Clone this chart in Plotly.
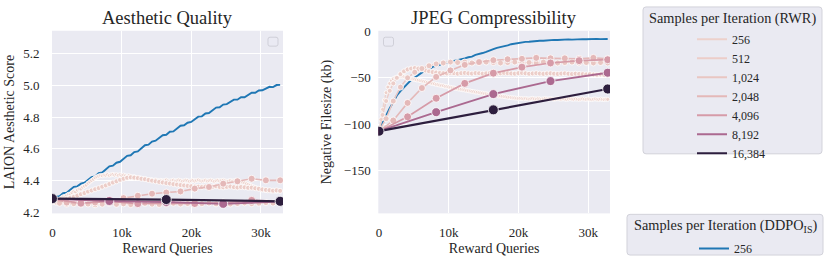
import plotly.graph_objects as go

# ---------------- data ----------------
tick_vals = [0, 10000, 20000, 30000]
tick_text = ["0", "10k", "20k", "30k"]
aes_ticks = [4.2, 4.4, 4.6, 4.8, 5.0, 5.2]
jpeg_ticks = [0, -50, -100, -150]

rwr_samples = [256, 512, 1024, 2048, 4096, 8192, 16384]
rwr_labels = ["256", "512", "1,024", "2,048", "4,096", "8,192", "16,384"]
ddpo_label = "256"
ddpo_log_step = 512  # reward queries between logged DDPO points

aes_ddpo = [4.280, 4.298, 4.302, 4.321, 4.324, 4.343, 4.361, 4.364, 4.381, 4.387,
            4.403, 4.422, 4.427, 4.447, 4.451, 4.472, 4.490, 4.494, 4.513, 4.519,
            4.536, 4.556, 4.560, 4.580, 4.584, 4.605, 4.623, 4.627, 4.646, 4.652,
            4.668, 4.686, 4.689, 4.708, 4.710, 4.729, 4.746, 4.749, 4.765, 4.770,
            4.786, 4.803, 4.805, 4.823, 4.826, 4.844, 4.860, 4.862, 4.879, 4.882,
            4.895, 4.910, 4.910, 4.925, 4.925, 4.941, 4.954, 4.954, 4.968, 4.969,
            4.979, 4.991, 4.989, 5.002, 5.003]

aes_rwr_256 = [4.272, 4.269, 4.276, 4.283, 4.281, 4.291, 4.298, 4.296, 4.307, 4.314,
               4.312, 4.324, 4.331, 4.329, 4.341, 4.348, 4.347, 4.359, 4.366, 4.372,
               4.384, 4.392, 4.401, 4.409, 4.418, 4.424,
               4.429, 4.433, 4.431, 4.436, 4.434, 4.438, 4.433, 4.437, 4.440, 4.435,
               4.438, 4.434, 4.437, 4.432, 4.435,
               4.431, 4.428, 4.431, 4.426, 4.423, 4.425, 4.420, 4.417, 4.419, 4.414,
               4.411, 4.413, 4.409, 4.406, 4.408, 4.404, 4.402, 4.405, 4.401, 4.399,
               4.402, 4.398, 4.401, 4.404, 4.399, 4.397, 4.401, 4.403, 4.398, 4.400,
               4.404, 4.401, 4.397, 4.399, 4.403, 4.400, 4.396, 4.399, 4.402, 4.398,
               4.401, 4.404, 4.400, 4.397, 4.399, 4.402, 4.398, 4.400, 4.403, 4.399,
               4.396, 4.399, 4.402, 4.398, 4.401, 4.403, 4.399, 4.396, 4.398, 4.401,
               4.397, 4.399, 4.402, 4.398, 4.396,
               4.393, 4.389, 4.386, 4.380, 4.376, 4.371, 4.366, 4.362, 4.357, 4.353,
               4.349, 4.346, 4.342, 4.340, 4.338,
               4.336, 4.338, 4.334, 4.337, 4.335, 4.333, 4.336, 4.334]
aes_rwr_512 = [4.265, 4.262, 4.270, 4.276, 4.284, 4.292, 4.298, 4.306, 4.315,
               4.322, 4.331, 4.338, 4.346, 4.353, 4.362, 4.370, 4.379, 4.388, 4.396, 4.405, 4.412,
               4.418, 4.421, 4.419, 4.416, 4.412, 4.409, 4.404, 4.400, 4.396, 4.392,
               4.389, 4.385, 4.382, 4.378, 4.375, 4.372, 4.370, 4.367, 4.365, 4.363,
               4.362, 4.360, 4.363, 4.359, 4.361, 4.364, 4.360, 4.358, 4.361, 4.363,
               4.359, 4.357, 4.360, 4.358, 4.355, 4.356,
               4.352, 4.349, 4.345, 4.342, 4.340, 4.337, 4.339, 4.336]
aes_rwr_1024 = [4.268, 4.258, 4.252, 4.255, 4.250, 4.253, 4.248, 4.252, 4.256, 4.251,
                4.254, 4.249, 4.253, 4.257, 4.252, 4.250, 4.254, 4.258, 4.253, 4.256,
                4.252, 4.255, 4.259, 4.254, 4.257, 4.253, 4.256, 4.260, 4.255, 4.258,
                4.262, 4.259, 4.263]
aes_rwr_2048 = [4.280, 4.262, 4.255, 4.262, 4.272, 4.290, 4.305, 4.318, 4.325,
                4.332, 4.350, 4.360, 4.381, 4.396, 4.412, 4.402, 4.402]
aes_rwr_4096 = [4.283, 4.258, 4.270, 4.255, 4.258, 4.256, 4.260, 4.276, 4.268]
aes_rwr_8192 = [4.285, 4.272, 4.266, 4.254, 4.268]
aes_rwr_16384 = [4.287, 4.281, 4.270]

jpeg_ddpo = [-106, -97.6, -90.3, -82.7, -76.2, -69.0, -64.3, -59.7, -56.2, -52.3,
             -49.7, -46.8, -44.6, -41.8, -40.6, -38.3, -37.1, -35.8, -35.1, -33.4,
             -32.6, -31.8, -31.1, -29.8, -29.1, -27.8, -27.1, -25.3, -24.6, -23.3,
             -22.1, -20.3, -19.1, -17.8, -17.1, -15.8, -15.1, -13.8, -13.1, -12.3,
             -12.1, -11.3, -11.1, -10.6, -10.6, -10.0, -10.1, -9.6, -9.6, -9.1,
             -9.3, -8.8, -9.0, -8.6, -8.8, -8.4, -8.6, -8.3, -8.5, -8.1,
             -8.4, -8.0, -8.3, -7.9, -8.1]

jpeg_rwr_256 = [-107.5, -95, -84, -74, -66, -60, -56, -53, -51, -50, -49.5, -49, -48.5, -48.3, -48.8, -49.3, -50,
                -50.4, -50.9, -51.3, -51.6, -52.2, -52.5, -53.1, -53.4, -53.9, -54.4, -54.8, -55.3,
                -55.6, -56.2, -56.5, -57.1, -57.4, -57.9, -58.3, -58.6, -59.2, -59.5, -59.9, -60.3,
                -60.7, -61.0, -61.4, -61.7, -62.2, -62.4, -62.9, -63.1, -63.6, -63.9, -64.2, -64.6,
                -64.9, -65.3, -65.5, -66.0, -66.3, -66.5, -67.0, -67.2, -67.6, -67.9, -68.1, -68.6,
                -68.8, -69.1, -69.5, -69.7, -70.0, -70.3, -70.5, -70.9, -71.0, -71.3, -71.6, -71.7,
                -72.0, -72.2, -72.1, -72.4,
                -72.6, -72.3, -72.7, -72.9, -72.5, -72.2, -72.6, -72.8, -72.4, -72.7, -73.0, -72.6,
                -72.3, -72.7, -72.9, -72.5, -72.8, -73.1, -72.7, -72.4, -72.8, -73.0, -72.6, -72.9,
                -73.2, -72.8, -72.5, -72.9, -73.1, -72.7, -73.0, -73.3, -72.9, -72.6, -73.0, -73.2,
                -72.8, -73.1, -73.4, -73.0, -72.7, -73.1, -73.3, -72.9, -73.2, -73.4, -73.0, -73.2]
jpeg_rwr_512 = [-107.5, -90, -75, -64, -56, -50, -46, -43, -41, -40, -39.5,
                -40, -41, -42, -43, -43.8, -44.3, -44.8, -45,
                -45.3, -44.8, -45.1, -45.5, -45.0, -44.7, -45.2, -45.4, -44.9, -45.1, -45.6, -45.2,
                -44.8, -45.0, -45.4, -45.1, -44.7, -45.0, -45.3, -45.5, -45.0, -44.8, -45.2, -45.6,
                -45.3, -45.0, -45.4, -45.7, -45.3, -45.1, -45.5, -45.8, -45.4, -45.2, -45.6, -45.9,
                -45.5, -45.8,
                -46.0, -46.3, -46.1, -46.5, -46.7, -46.4, -46.8, -47.0]
jpeg_rwr_1024 = [-107.5, -94, -75, -60, -50, -44, -40, -37, -35, -34, -33, -33.5, -33, -34,
                 -33.5, -33, -33.5, -34, -33.5, -33, -34, -33.5, -34, -33, -33.5, -34, -33.5,
                 -33, -34, -33.5, -34, -33.5, -34]
jpeg_rwr_2048 = [-107.5, -96, -77, -61, -49, -42, -36, -33, -31, -30, -29.5, -28.5, -29,
                 -29, -29.5, -28.5, -29.5]
jpeg_rwr_4096 = [-107.5, -92, -72, -56, -45, -38.5, -34, -31.5, -30.5]
jpeg_rwr_8192 = [-107.5, -87, -67.5, -53.5, -44.5]
jpeg_rwr_16384 = [-107.5, -84.5, -62]

aes_rwr = [aes_rwr_256, aes_rwr_512, aes_rwr_1024, aes_rwr_2048,
           aes_rwr_4096, aes_rwr_8192, aes_rwr_16384]
jpeg_rwr = [jpeg_rwr_256, jpeg_rwr_512, jpeg_rwr_1024, jpeg_rwr_2048,
            jpeg_rwr_4096, jpeg_rwr_8192, jpeg_rwr_16384]

# ---------------- style ----------------
rwr_colors = ["#edd1cb", "#eccdc8", "#e9c6c2", "#e4b8b8", "#d69ba8", "#ab6990", "#2d1e3e"]
rwr_widths = [1.3, 1.4, 1.5, 1.6, 1.7, 1.9, 2.2]
rwr_msize = [4, 5, 6, 7, 8, 9, 10]
ddpo_color = "#1f77b4"
FONT = "Liberation Serif"
TXT = "#262626"
W, H = 830, 263


def px(x):
    return x / W


def py(y):
    return 1 - y / H


def rounded(x0, y0, x1, y1, r=3):
    pts = [
        ("M", (x0 + r, y0)), ("L", (x1 - r, y0)), ("Q", (x1, y0), (x1, y0 + r)),
        ("L", (x1, y1 - r)), ("Q", (x1, y1), (x1 - r, y1)), ("L", (x0 + r, y1)),
        ("Q", (x0, y1), (x0, y1 - r)), ("L", (x0, y0 + r)), ("Q", (x0, y0), (x0 + r, y0)),
    ]
    s = ""
    for p in pts:
        s += p[0] + " " + " ".join(f"{px(a):.5f},{py(b):.5f}" for a, b in p[1:]) + " "
    return s + "Z"


fig = go.Figure()

panels = [("x", "y", aes_ddpo, aes_rwr), ("x2", "y2", jpeg_ddpo, jpeg_rwr)]
for xa, ya, ddpo, rwr in panels:
    fig.add_trace(go.Scatter(
        x=[i * ddpo_log_step for i in range(len(ddpo))], y=ddpo,
        mode="lines", line=dict(color=ddpo_color, width=1.9),
        xaxis=xa, yaxis=ya, showlegend=False, hoverinfo="skip"))
    for k, (s, vals) in enumerate(zip(rwr_samples, rwr)):
        fig.add_trace(go.Scatter(
            x=[i * s for i in range(len(vals))], y=vals,
            mode="lines+markers",
            line=dict(color=rwr_colors[k], width=rwr_widths[k]),
            marker=dict(color=rwr_colors[k], size=rwr_msize[k],
                        line=dict(color="white", width=0.8)),
            xaxis=xa, yaxis=ya, showlegend=False, hoverinfo="skip"))

# legend entries (lines only)
for k, lab in enumerate(rwr_labels):
    fig.add_trace(go.Scatter(x=[None], y=[None], mode="lines", name=lab,
                             line=dict(color=rwr_colors[k], width=2),
                             legend="legend", showlegend=True))
fig.add_trace(go.Scatter(x=[None], y=[None], mode="lines", name=ddpo_label,
                         line=dict(color=ddpo_color, width=2),
                         legend="legend2", showlegend=True))


def axis_style(ticklen):
    return dict(
        showgrid=True, gridcolor="white", gridwidth=1, zeroline=False,
        showline=False, ticks="outside", ticklen=ticklen, tickcolor="rgba(0,0,0,0)",
        tickfont=dict(family=FONT, size=13, color=TXT), automargin=False,
    )


ydom = [py(215), py(31)]
lab_font = dict(family=FONT, size=14, color=TXT)
fig.update_layout(
    width=W, height=H, margin=dict(l=0, r=0, t=0, b=0),
    paper_bgcolor="white", plot_bgcolor="#eaeaf2",
    font=dict(family=FONT, color=TXT),
    xaxis=dict(domain=[px(52), px(283)], range=[-60, 33180], anchor="y",
               tickvals=tick_vals, ticktext=tick_text,
               title=dict(text="Reward Queries", font=lab_font, standoff=4),
               **axis_style(7)),
    yaxis=dict(domain=ydom, range=[4.194, 5.344], anchor="x", tickvals=aes_ticks,
               tickformat=".1f",
               title=dict(text="LAION Aesthetic Score", font=lab_font, standoff=5),
               **axis_style(9)),
    xaxis2=dict(domain=[px(378.3), px(610)], range=[-100, 33100], anchor="y2",
                tickvals=tick_vals, ticktext=tick_text,
                title=dict(text="Reward Queries", font=lab_font, standoff=4),
                **axis_style(7)),
    yaxis2=dict(domain=ydom, range=[-196, 0.7], anchor="x2", tickvals=jpeg_ticks,
                title=dict(text="Negative Filesize (kb)", font=lab_font, standoff=8),
                **axis_style(4)),
    legend=dict(x=px(692), y=py(25), xanchor="left", yanchor="top",
                bgcolor="rgba(0,0,0,0)", borderwidth=0,
                font=dict(family=FONT, size=12, color=TXT), tracegroupgap=0),
    legend2=dict(x=px(694), y=py(236), xanchor="left", yanchor="top",
                 bgcolor="rgba(0,0,0,0)", borderwidth=0,
                 font=dict(family=FONT, size=12, color=TXT)),
)

shapes = [
    dict(type="path", path=rounded(643, 7, 822, 155), xref="paper", yref="paper",
         fillcolor="#eaeaf2", line=dict(color="#d2d2da", width=1), layer="below"),
    dict(type="path", path=rounded(627, 216, 823, 257), xref="paper", yref="paper",
         fillcolor="#eaeaf2", line=dict(color="#d2d2da", width=1), layer="below"),
    # empty legend frames inside the axes
    dict(type="path", path=rounded(268, 37.5, 278, 46.5, 2), xref="paper", yref="paper",
         fillcolor="rgba(234,234,242,0.8)", line=dict(color="#cfcfd8", width=1), layer="above"),
    dict(type="path", path=rounded(383.5, 37.5, 393.5, 46.5, 2), xref="paper", yref="paper",
         fillcolor="rgba(234,234,242,0.8)", line=dict(color="#cfcfd8", width=1), layer="above"),
]
fig.update_layout(shapes=shapes)

annotations = [
    dict(text="Aesthetic Quality", x=px(167.5), y=py(18), xref="paper", yref="paper",
         showarrow=False, xanchor="center", yanchor="middle",
         font=dict(family=FONT, size=18.5, color=TXT)),
    dict(text="JPEG Compressibility", x=px(494), y=py(18), xref="paper", yref="paper",
         showarrow=False, xanchor="center", yanchor="middle",
         font=dict(family=FONT, size=18.5, color=TXT)),
    dict(text="Samples per Iteration (RWR)", x=px(732.5), y=py(18.5), xref="paper", yref="paper",
         showarrow=False, xanchor="center", yanchor="middle",
         font=dict(family=FONT, size=14.3, color=TXT)),
    dict(text="Samples per Iteration (DDPO<sub>IS</sub>)", x=px(725), y=py(228), xref="paper", yref="paper",
         showarrow=False, xanchor="center", yanchor="middle",
         font=dict(family=FONT, size=14.3, color=TXT)),
]
fig.update_layout(annotations=annotations)

fig.write_html("out.html", config={"displayModeBar": False},
               post_script="document.body.style.margin='0px';")
